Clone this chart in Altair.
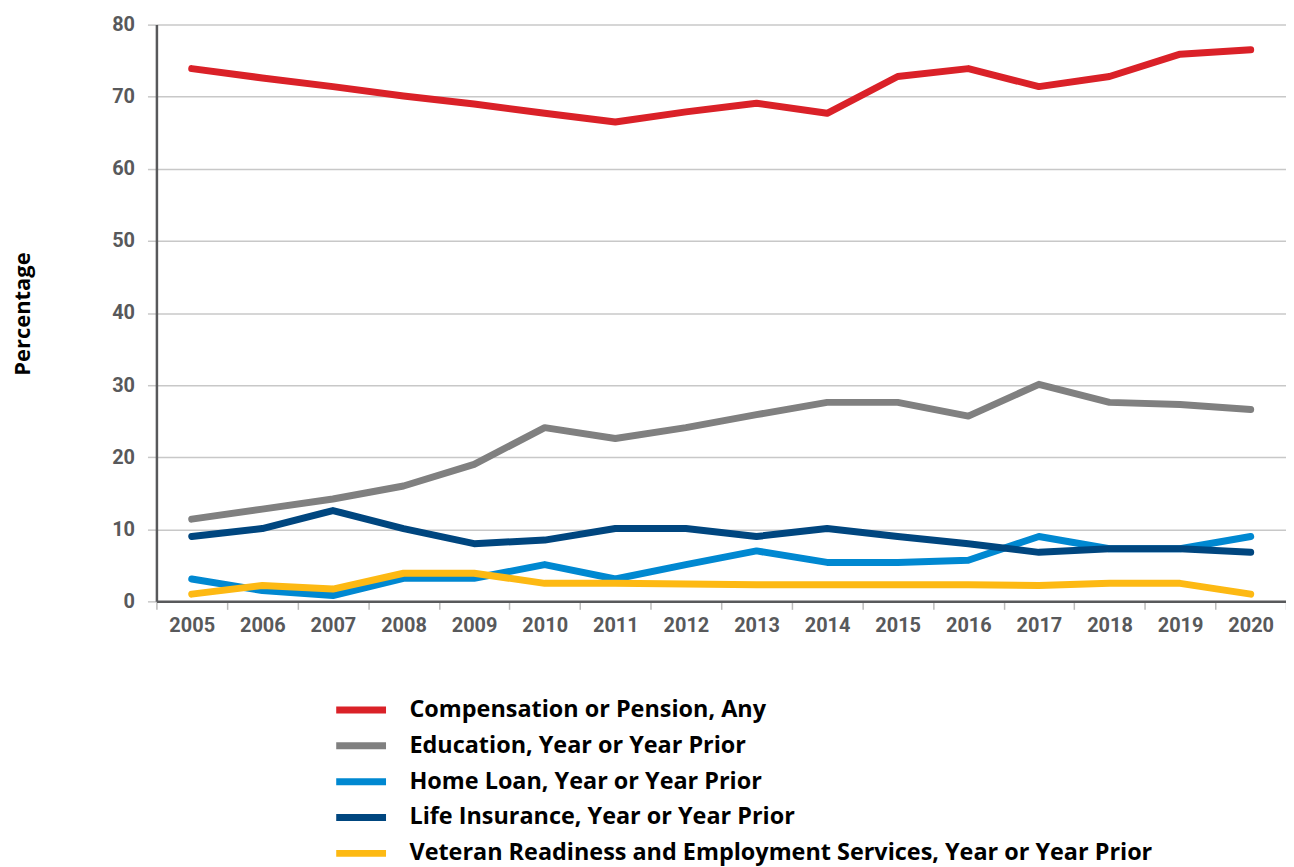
import altair as alt
import pandas as pd

years = [str(y) for y in range(2005, 2021)]

compensation = [73.9, 72.6, 71.4, 70.1, 69.0, 67.7, 66.5, 67.9, 69.1, 67.7, 72.8, 73.9, 71.4, 72.8, 75.9, 76.5]
education = [11.4, 12.8, 14.2, 16.0, 19.0, 24.1, 22.6, 24.1, 25.9, 27.6, 27.6, 25.7, 30.1, 27.6, 27.3, 26.6]
home_loan = [3.1, 1.5, 0.8, 3.2, 3.2, 5.1, 3.1, 5.1, 7.0, 5.4, 5.4, 5.7, 9.0, 7.3, 7.3, 9.0]
life_insurance = [9.0, 10.1, 12.6, 10.1, 8.0, 8.5, 10.1, 10.1, 9.0, 10.1, 9.0, 8.0, 6.8, 7.3, 7.3, 6.8]
vre = [1.0, 2.2, 1.7, 3.9, 3.9, 2.5, 2.5, 2.4, 2.3, 2.3, 2.3, 2.3, 2.2, 2.5, 2.5, 1.0]

series_names = [
    "Compensation or Pension, Any",
    "Education, Year or Year Prior",
    "Home Loan, Year or Year Prior",
    "Life Insurance, Year or Year Prior",
    "Veteran Readiness and Employment Services, Year or Year Prior",
]
series_values = [compensation, education, home_loan, life_insurance, vre]
series_colors = ["#DA2128", "#808080", "#0088D1", "#00467F", "#FDB913"]

rows = []
for name, vals in zip(series_names, series_values):
    for y, v in zip(years, vals):
        rows.append({"Year": y, "Value": v, "Series": name})
df = pd.DataFrame(rows)

tick_font = "Roboto"
label_font = "Open Sans"

chart = alt.Chart(df).mark_line(strokeWidth=7, strokeCap="round", strokeJoin="round").encode(
    x=alt.X(
        "Year:O",
        bandPosition=0.5,
        scale=alt.Scale(type="band", paddingInner=0, paddingOuter=0),
        axis=alt.Axis(
            title=None,
            labelAngle=0,
            tickBand="extent",
            grid=False,
            domainColor="#58595B",
            domainWidth=2.5,
            tickColor="#BBBBBB",
            tickWidth=1.5,
            tickSize=8,
            labelFont=tick_font,
            labelFontSize=20,
            labelFontWeight="bold",
            labelColor="#58595B",
            labelPadding=6,
        ),
    ),
    y=alt.Y(
        "Value:Q",
        scale=alt.Scale(domain=[0, 80], nice=False),
        axis=alt.Axis(
            title="Percentage",
            values=[0, 10, 20, 30, 40, 50, 60, 70, 80],
            grid=True,
            gridColor="#C8C8C8",
            gridWidth=1.5,
            domainColor="#58595B",
            domainWidth=2.5,
            tickColor="#C8C8C8",
            tickWidth=1.5,
            tickSize=9,
            labelFont=tick_font,
            labelFontSize=20,
            labelFontWeight="bold",
            labelColor="#58595B",
            labelPadding=13,
            titleFont=label_font,
            titleFontSize=22,
            titleFontWeight="bold",
            titleColor="#000000",
            titleX=-134,
            titleY=290,
            titleAngle=270,
            titleAlign="center",
            titleBaseline="middle",
        ),
    ),
    color=alt.Color(
        "Series:N",
        scale=alt.Scale(domain=series_names, range=series_colors),
        sort=series_names,
        legend=alt.Legend(
            title=None,
            orient="none",
            legendX=177,
            legendY=670,
            direction="vertical",
            symbolType="stroke",
            symbolSize=2500,
            symbolStrokeWidth=7,
            clipHeight=36,
            labelFont=label_font,
            labelFontSize=23.5,
            labelFontWeight="bold",
            labelColor="#000000",
            labelOffset=20,
            labelLimit=1000,
            rowPadding=0,
            padding=0,
        ),
    ),
).properties(
    width=1134,
    height=579,
    autosize=alt.AutoSizeParams(type="none"),
    padding={"left": 149, "top": 15, "right": 0, "bottom": 265},
).configure_view(stroke=None)

chart.save("out.html", embed_options={"renderer": "svg", "actions": False})
